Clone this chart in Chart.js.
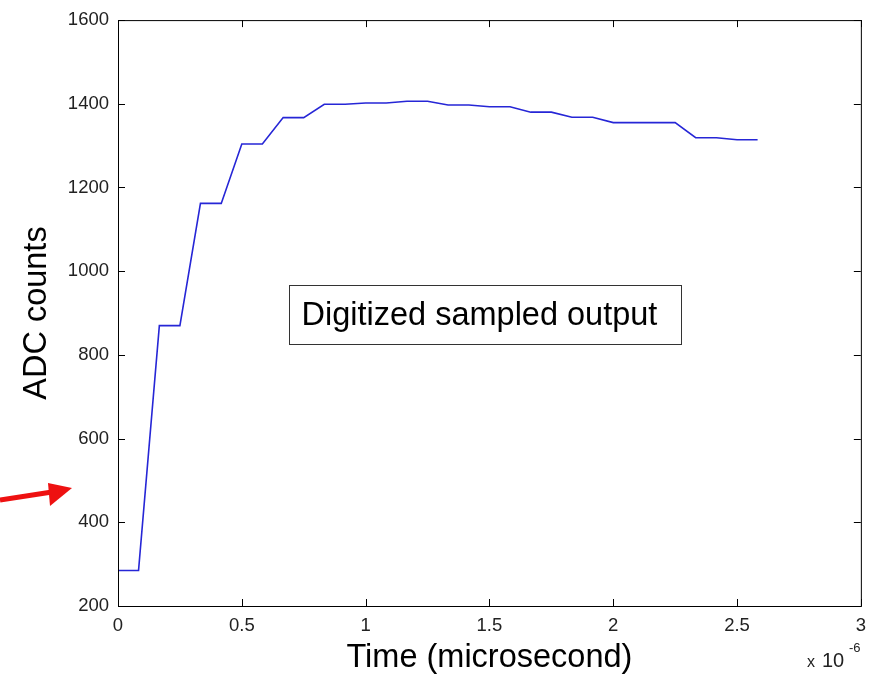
<!DOCTYPE html>
<html lang="en">
<head>
    <meta charset="UTF-8">
    <title>Digitized sampled output</title>
    <script src="https://cdn.jsdelivr.net/npm/chart.js"></script>
    <style>
        html, body { margin: 0; padding: 0; background: #fff; }
        #wrap { width: 875px; height: 679px; }
    </style>
</head>
<body>
    <div id="wrap">
        <canvas id="adcChart" width="875" height="679"></canvas>
    </div>

    <script>
        // sample times (microseconds) and ADC counts
        const timeUs = [0, 0.083, 0.167, 0.25, 0.333, 0.417, 0.5, 0.583, 0.667, 0.75,
                        0.833, 0.917, 1.0, 1.083, 1.167, 1.25, 1.333, 1.417, 1.5, 1.583,
                        1.667, 1.75, 1.833, 1.917, 2.0, 2.083, 2.167, 2.25, 2.333, 2.417,
                        2.5, 2.583];
        const adcCounts = [285, 285, 870, 870, 1162, 1162, 1304, 1304, 1367, 1367,
                           1399, 1399, 1402, 1402, 1406, 1406, 1397, 1397, 1393, 1393,
                           1380, 1380, 1368, 1368, 1355, 1355, 1355, 1355, 1319, 1319,
                           1314, 1314];
        const xTicks = [0, 0.5, 1, 1.5, 2, 2.5, 3];
        const yTicks = [200, 400, 600, 800, 1000, 1200, 1400, 1600];

        const labelText = 'Digitized sampled output';
        const labelAnchor = { x: 0.69, y: 968 }; // upper-left corner of the text box, data units

        const FONT = '"Liberation Sans", Arial, Helvetica, sans-serif';

        const points = timeUs.map((t, i) => ({ x: t, y: adcCounts[i] }));

        // box around the plot, inward tick marks, text box, arrow, exponent
        const matlabLook = {
            id: 'matlabLook',
            afterDraw(chart) {
                const ctx = chart.ctx;
                const a = chart.chartArea;
                const xs = chart.scales.x;
                const ys = chart.scales.y;
                const tl = 7;

                ctx.save();
                ctx.strokeStyle = '#000';
                ctx.lineWidth = 1;
                ctx.strokeRect(a.left + 0.5, a.top + 0.5, a.right - a.left, a.bottom - a.top);

                ctx.beginPath();
                xTicks.forEach(v => {
                    const px = Math.round(xs.getPixelForValue(v)) + 0.5;
                    ctx.moveTo(px, a.bottom); ctx.lineTo(px, a.bottom - tl);
                    ctx.moveTo(px, a.top); ctx.lineTo(px, a.top + tl);
                });
                yTicks.forEach(v => {
                    const py = Math.round(ys.getPixelForValue(v)) + 0.5;
                    ctx.moveTo(a.left, py); ctx.lineTo(a.left + tl, py);
                    ctx.moveTo(a.right, py); ctx.lineTo(a.right - tl, py);
                });
                ctx.stroke();

                // text box
                ctx.font = '32.5px ' + FONT;
                const tw = ctx.measureText(labelText).width;
                const bx = Math.round(xs.getPixelForValue(labelAnchor.x)) + 0.5;
                const by = Math.round(ys.getPixelForValue(labelAnchor.y)) + 0.5;
                const bw = Math.round(tw + 36), bh = 59;
                ctx.fillStyle = '#fff';
                ctx.fillRect(bx, by, bw, bh);
                ctx.strokeStyle = '#333';
                ctx.strokeRect(bx, by, bw, bh);
                ctx.fillStyle = '#000';
                ctx.textBaseline = 'middle';
                ctx.textAlign = 'left';
                ctx.fillText(labelText, bx + 12, by + bh / 2 + 1);

                // axis exponent
                ctx.fillStyle = '#222';
                ctx.textBaseline = 'alphabetic';
                ctx.font = '16px ' + FONT;
                ctx.fillText('x', 807, 667);
                ctx.font = '20px ' + FONT;
                ctx.fillText('10', 822, 667);
                ctx.font = '13px ' + FONT;
                ctx.fillText('-6', 849, 652);

                // red arrow pointing at the axis
                ctx.strokeStyle = '#ee1111';
                ctx.fillStyle = '#ee1111';
                ctx.lineWidth = 5;
                ctx.beginPath();
                ctx.moveTo(0, 500);
                ctx.lineTo(52, 492);
                ctx.stroke();
                ctx.beginPath();
                ctx.moveTo(72, 488);
                ctx.lineTo(48, 483);
                ctx.lineTo(50, 506);
                ctx.closePath();
                ctx.fill();
                ctx.restore();
            }
        };

        new Chart(document.getElementById('adcChart'), {
            type: 'line',
            data: {
                datasets: [{
                    data: points,
                    borderColor: '#2626d6',
                    borderWidth: 1.6,
                    pointRadius: 0,
                    tension: 0,
                    fill: false
                }]
            },
            options: {
                responsive: false,
                animation: false,
                layout: { padding: { top: 20, right: 13, left: 0, bottom: 0 } },
                plugins: { legend: { display: false }, tooltip: { enabled: false } },
                scales: {
                    x: {
                        type: 'linear',
                        min: 0,
                        max: 3,
                        afterFit(scale) { scale.height = 73; },
                        afterBuildTicks(scale) { scale.ticks = xTicks.map(v => ({ value: v })); },
                        grid: { display: false, drawTicks: false },
                        border: { display: false },
                        ticks: {
                            padding: 9,
                            color: '#222',
                            font: { family: FONT, size: 18.5 },
                            callback: v => String(v)
                        },
                        title: {
                            display: true,
                            text: 'Time (microsecond)',
                            color: '#000',
                            font: { family: FONT, size: 32.5 },
                            padding: { top: 0, bottom: 1 }
                        }
                    },
                    y: {
                        min: 200,
                        max: 1600,
                        afterFit(scale) { scale.width = 118; },
                        afterBuildTicks(scale) { scale.ticks = yTicks.map(v => ({ value: v })); },
                        grid: { display: false, drawTicks: false },
                        border: { display: false },
                        ticks: {
                            padding: 9,
                            color: '#222',
                            font: { family: FONT, size: 18.5 },
                            callback: v => String(v)
                        },
                        title: {
                            display: true,
                            text: 'ADC counts',
                            color: '#000',
                            font: { family: FONT, size: 32.5 },
                            padding: { top: 18, bottom: 0 }
                        }
                    }
                }
            },
            plugins: [matlabLook]
        });
    </script>
</body>
</html>
